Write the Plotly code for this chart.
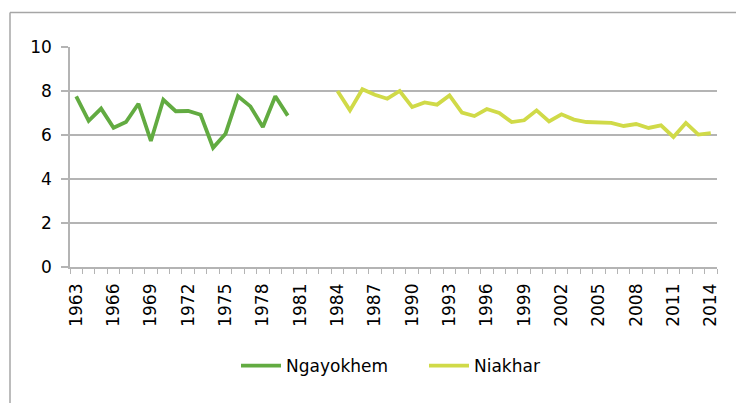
import plotly.graph_objects as go

years_ngayokhem = list(range(1963, 1981))
ngayokhem = [7.76, 6.64, 7.20, 6.33, 6.59, 7.42, 5.73, 7.60, 7.08, 7.09,
             6.92, 5.42, 6.06, 7.76, 7.30, 6.36, 7.76, 6.88]

years_niakhar = list(range(1984, 2015))
niakhar = [8.00, 7.12, 8.08, 7.83, 7.65, 8.00, 7.27, 7.48, 7.38, 7.80,
           7.02, 6.86, 7.18, 7.00, 6.59, 6.67, 7.12, 6.62, 6.94, 6.70,
           6.59, 6.56, 6.55, 6.41, 6.50, 6.32, 6.44, 5.91, 6.55, 6.02, 6.09]

tick_years = list(range(1963, 2015, 3))
tick_labels = [str(y) for y in tick_years]
y_ticks = [0, 2, 4, 6, 8, 10]

FONT = "DejaVu Sans"
GRID = "#B4B4B4"

fig = go.Figure()
fig.add_trace(go.Scatter(x=years_ngayokhem, y=ngayokhem, mode="lines",
                         name="Ngayokhem",
                         line=dict(color="#62AB41", width=3.8)))
fig.add_trace(go.Scatter(x=years_niakhar, y=niakhar, mode="lines",
                         name="Niakhar",
                         line=dict(color="#D0DA48", width=3.8)))

# page body has an 8px margin: work in figure coordinates (target - 8)
OFF = 8
W, H = 744 - OFF, 403 - OFF
L, T = 70 - OFF, 47 - OFF
R = W - (717 - OFF)
B = H - (267 - OFF)
pw, ph = W - L - R, H - T - B

# outer chart border (cropped)
bx = (10 - OFF - L) / pw
by = 1 + (T - (12.5 - OFF)) / ph
fig.add_shape(type="line", xref="paper", yref="paper", x0=bx, x1=1.2, y0=by, y1=by,
              line=dict(color="#A6A6A6", width=1.5))
fig.add_shape(type="line", xref="paper", yref="paper", x0=bx, x1=bx, y0=by, y1=-0.8,
              line=dict(color="#A6A6A6", width=1.5))

fig.update_layout(
    width=W, height=H,
    margin=dict(l=L, r=R, t=T, b=B),
    paper_bgcolor="white", plot_bgcolor="white",
    font=dict(family=FONT, size=17, color="#000000"),
    showlegend=True,
    legend=dict(orientation="h", x=(236 - 70) / pw, xanchor="left",
                y=(267 - 366) / ph, yanchor="middle", font=dict(size=17),
                itemwidth=40, entrywidth=133, entrywidthmode="pixels"),
    xaxis=dict(range=[1962.5, 2014.5], tickmode="array", tickvals=tick_years,
               ticktext=tick_labels, tickangle=-90, ticks="", showgrid=False,
               showline=True, linecolor=GRID, linewidth=1.5,
               ticklabelstandoff=8, tickfont=dict(size=17),
               minor=dict(ticks="outside", tick0=1962.5, dtick=1, ticklen=5,
                          tickcolor=GRID, tickwidth=1.2, showgrid=False),
               zeroline=False),
    yaxis=dict(range=[0, 10], tickvals=y_ticks, ticks="outside", ticklen=7,
               tickcolor=GRID, tickwidth=1.5, showgrid=True, gridcolor=GRID,
               gridwidth=1.5, showline=True, linecolor=GRID, linewidth=1.5,
               zeroline=False, ticklabelstandoff=6, tickfont=dict(size=17)),
)

fig.write_html("out.html")
